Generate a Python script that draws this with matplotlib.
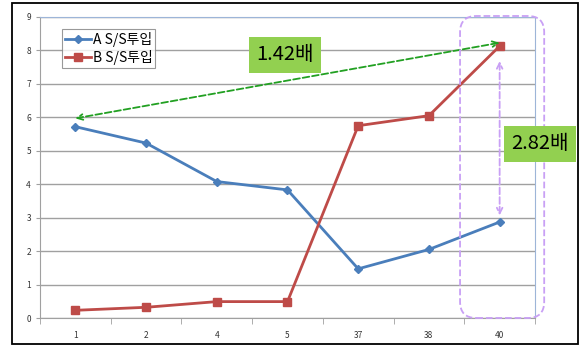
import numpy as np
import matplotlib.pyplot as plt
from matplotlib.patches import FancyBboxPatch, Rectangle

plt.rcParams['font.family'] = ['Noto Sans CJK KR', 'DejaVu Sans']

categories = ['1', '2', '4', '5', '37', '38', '40']
series_a = [5.72, 5.23, 4.08, 3.83, 1.47, 2.05, 2.87]
series_b = [0.23, 0.32, 0.49, 0.49, 5.75, 6.05, 8.13]
labels = ['A S/S투입', 'B S/S투입']
ratio_labels = ['1.42배', '2.82배']

fig = plt.figure(figsize=(5.81, 3.47), dpi=100)
# outer chart frame
fig.patches.append(Rectangle((12 / 581, 3 / 347), 566 / 581, 341 / 347,
                             transform=fig.transFigure, fill=False,
                             edgecolor='black', lw=1.3))

ax = fig.add_axes([40 / 581, 1 - 318 / 347, 495 / 581, 301 / 347])
x = np.arange(len(categories))

ax.plot(x, series_a, color='#4A7EBB', lw=2, marker='D', ms=4.5, label=labels[0], zorder=3)
ax.plot(x, series_b, color='#BE4B48', lw=2, marker='s', ms=5.5, label=labels[1], zorder=3)

ax.set_xlim(-0.5, len(categories) - 0.5)
ax.set_ylim(0, 9)
ax.set_yticks(range(10))
ax.yaxis.grid(True, color='#A0A0A0', lw=1)
ax.set_axisbelow(True)
ax.set_xticks(x)
ax.set_xticklabels(categories)
ax.set_xticks(np.arange(-0.5, len(categories)), minor=True)
ax.tick_params(axis='x', which='major', length=0, pad=9, labelsize=6, labelcolor='#333333')
ax.tick_params(axis='x', which='minor', length=4, color='#A0A0A0')
ax.tick_params(axis='y', length=3, color='#A0A0A0', labelsize=6, labelcolor='#333333')
for s in ['left', 'bottom']:
    ax.spines[s].set_color('#A0A0A0')
for s in ['top', 'right']:
    ax.spines[s].set_color('#9DB5D8')

leg = ax.legend(loc='upper left', bbox_to_anchor=(0.045, 0.96), fontsize=10,
                frameon=True, fancybox=False, borderpad=0.2, handlelength=1.9,
                handletextpad=0.1, labelspacing=0.25, borderaxespad=0)
leg.get_frame().set_edgecolor('#808080')
leg.get_frame().set_linewidth(0.8)

# ratio arrows
last = len(categories) - 1
ax.annotate('', xy=(0, series_a[0] + 0.25), xytext=(last, series_b[-1] + 0.1),
            arrowprops=dict(arrowstyle='<->', color='#22A022', lw=1.3, ls='--',
                            shrinkA=0, shrinkB=0), zorder=4)
ax.annotate('', xy=(last, series_a[-1] + 0.2), xytext=(last, series_b[-1] - 0.45),
            arrowprops=dict(arrowstyle='<->', color='#C9A0F5', lw=1.3, ls='--',
                            shrinkA=0, shrinkB=0), zorder=4)

# highlight box around last category
ax.add_patch(FancyBboxPatch((5.44, 0.0), 1.19, 9.03,
                            boxstyle='round,pad=0,rounding_size=0.23',
                            mutation_aspect=2.12,
                            fill=False, edgecolor='#C9A0F5', lw=1.3, ls='--',
                            clip_on=False, zorder=4))

fig.text(285 / 581, 1 - 55 / 347, ratio_labels[0], ha='center', va='center', fontsize=14.5,
         bbox=dict(boxstyle='square,pad=0.35', facecolor='#92D050', edgecolor='none'))
fig.text(540 / 581, 1 - 144 / 347, ratio_labels[1], ha='center', va='center', fontsize=14.5,
         bbox=dict(boxstyle='square,pad=0.35', facecolor='#92D050', edgecolor='none'))

fig.savefig('out.png', dpi=100)
